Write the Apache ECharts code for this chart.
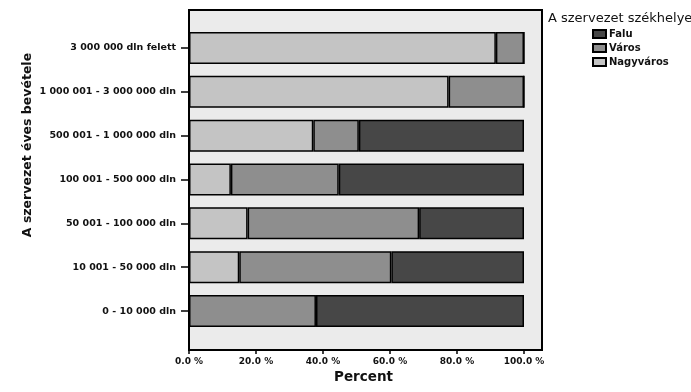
<!DOCTYPE html>
<html><head><meta charset="utf-8">
<script src="https://cdn.jsdelivr.net/npm/echarts@6/dist/echarts.min.js"></script>
<style>html,body{margin:0;padding:0;background:#fff}#c{width:691px;height:392px}</style>
</head><body><div id="c"></div>
<script>
const categories = ["3 000 000 dln felett","1 000 001 - 3 000 000 dln","500 001 - 1 000 000 dln","100 001 - 500 000 dln","50 001 - 100 000 dln","10 001 - 50 000 dln","0 - 10 000 dln"];
const nagyvaros = [91.6, 77.5, 37.1, 12.5, 17.5, 15.0, 0];
const varos     = [8.4, 22.5, 13.6, 32.2, 51.2, 45.4, 37.9];
const falu      = [0, 0, 49.3, 55.3, 31.3, 39.6, 62.1];
const xTicks = [0, 20, 40, 60, 80, 100];
const legendTitle = "A szervezet székhelye";
const yTitle = "A szervezet éves bevétele";
const xTitle = "Percent";

const FONT = "DejaVu Sans";
const chart = echarts.init(document.getElementById('c'), null, {renderer:'canvas'});
function ser(name, data, color){
  return {name, type:'bar', stack:'s', xAxisIndex:1, yAxisIndex:1, data,
    barWidth: 32,
    itemStyle:{color, borderColor:'#000', borderWidth:1.5}, emphasis:{disabled:true}};
}
chart.setOption({
  animation:false,
  title:{text:legendTitle, left:548, top:12, padding:0, textStyle:{fontFamily:FONT, fontSize:13, fontWeight:'normal', color:'#111'}},
  legend:{orient:'vertical', left:587, top:24, itemWidth:13, itemHeight:8, itemGap:4,
    data:['Falu','Város','Nagyváros'], icon:'rect',
    textStyle:{fontFamily:FONT, fontSize:10, fontWeight:'bold', color:'#111', padding:[0,0,0,-2]}},
  graphic:[{type:'text', x:28, y:145, rotation:Math.PI/2,
    style:{text:yTitle, font:'bold 12.5px "DejaVu Sans"', fill:'#111', align:'center', verticalAlign:'middle'}}],
  grid:[
    {left:189, right:149, top:10, bottom:42, show:true, backgroundColor:'#ebebeb', borderColor:'#000', borderWidth:2},
    {left:189, right:167, top:26, bottom:59}
  ],
  xAxis:[
    {gridIndex:0, type:'value', show:false, min:0, max:100},
    {gridIndex:1, type:'value', min:0, max:100, interval:20, position:'bottom', offset:17,
     axisLine:{show:false}, splitLine:{show:false},
     axisTick:{show:true, length:4, lineStyle:{color:'#000', width:1.5}},
     axisLabel:{margin:7, fontFamily:FONT, fontSize:9, fontWeight:'bold', color:'#111',
       formatter:v=> xTicks.includes(v) ? v.toFixed(1)+' %' : ''},
     name:xTitle, nameLocation:'middle', nameGap:20,
     nameTextStyle:{fontFamily:FONT, fontSize:13.5, fontWeight:'bold', color:'#111', padding:[0,0,0,14]}}
  ],
  yAxis:[
    {gridIndex:0, type:'value', show:false},
    {gridIndex:1, type:'category', data:categories, inverse:true,
     axisLine:{show:false},
     axisTick:{show:true, length:8, alignWithLabel:true, lineStyle:{color:'#000', width:1.5}},
     axisLabel:{margin:13, fontFamily:FONT, fontSize:9.5, fontWeight:'bold', color:'#111'}}
  ],
  series:[
    ser('Nagyváros', nagyvaros, '#c4c4c4'),
    ser('Város', varos, '#8e8e8e'),
    ser('Falu', falu, '#474747')
  ]
});
</script></body></html>
